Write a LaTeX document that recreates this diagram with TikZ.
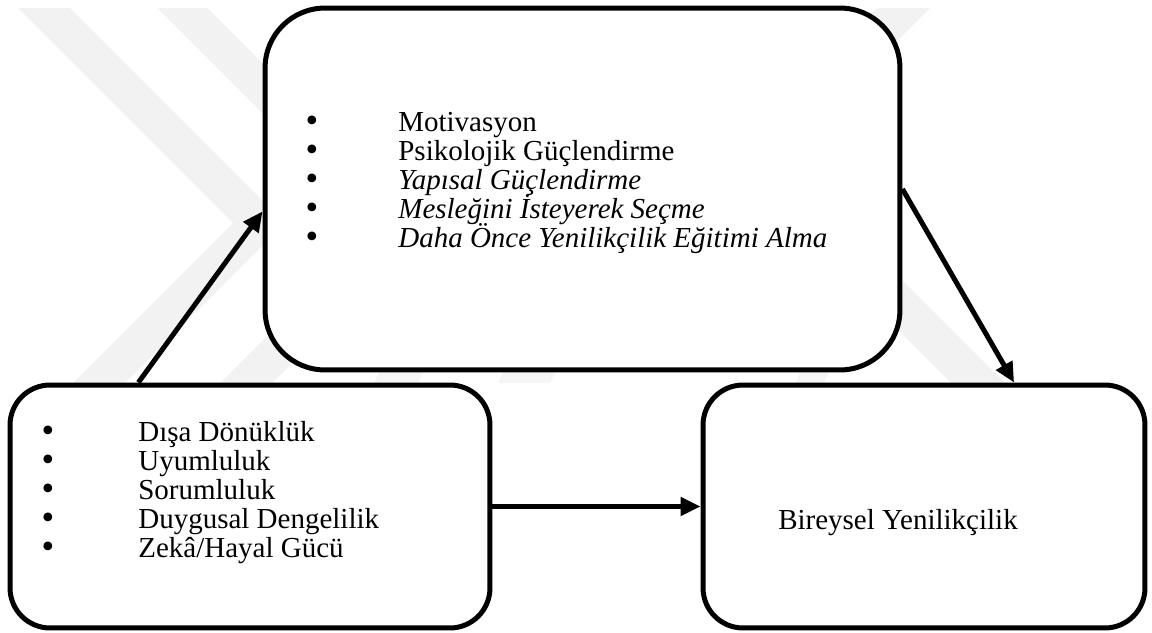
\documentclass[tikz,border=0pt]{standalone}
\usepackage{fontspec}
\setmainfont{Liberation Serif}
\newfontfamily\bulletfont{DejaVu Sans}
\usetikzlibrary{arrows.meta}

\begin{document}
\begin{tikzpicture}[x=0.02cm, y=-0.02cm, >={Triangle[length=0.4cm,width=0.36cm]},
  frame/.style={draw, line width=0.1cm, fill=white, inner sep=0pt, rounded corners=#1},
  conn/.style={->, line width=0.1cm},
  itemtext/.style={font=\fontsize{16.5pt}{16.5pt}\selectfont, inner sep=0pt, anchor=base west},
  itembullet/.style={font=\bulletfont\fontsize{17pt}{17pt}\selectfont, inner sep=0pt, anchor=base},
  mark color/.style={fill=black!5}]
  \useasboundingbox (0,0) rectangle (1152,632);

  % Watermark in the background
  \fill[mark color] (18,8) -- (70,8) -- (285,223) -- (108,400) -- (56,400) -- (233,223) -- cycle;
  \fill[mark color] (157,8) -- (207,8) -- (427,228) -- (255,400) -- (203,400) -- (376,227) -- cycle;
  \fill[mark color] (877,8) -- (930,8) -- (780,158) -- (1022,400) -- (968,400) -- (726.5,158.5) -- cycle;
  % small pieces showing between the boxes
  \fill[black!4] (382,366) -- (426,366) -- (418,383) -- (374,383) -- cycle;
  \fill[black!4] (506,366) -- (558,366) -- (550,383) -- (498,383) -- cycle;
  \fill[black!4] (802,366) -- (832,366) -- (824,383) -- (796,383) -- cycle;

  % Boxes
  \node[frame=1.2cm, minimum width=12.7cm, minimum height=7.24cm] (factors) at (582.5,189) {};
  \node[frame=0.8cm, minimum width=9.6cm, minimum height=4.86cm] (traits) at (250,506.5) {};
  \node[frame=0.8cm, minimum width=8.84cm, minimum height=4.86cm] (innov) at (924,506.5) {};

  % Bulleted items in the upper box
  \foreach \txt [count=\i from 0] in {Motivasyon, Psikolojik Güçlendirme,
      \textit{Yapısal Güçlendirme}, \textit{Mesleğini İsteyerek Seçme},
      \textit{Daha Önce Yenilikçilik Eğitimi Alma}} {
    \node[itembullet] (fb\i) at (312,{131+29.1*\i}) {•};
    \node[itemtext] (fac\i) at (398,{131+29.1*\i}) {\txt};
  }

  % Bulleted items in the lower left box
  \foreach \txt [count=\i from 0] in {Dışa Dönüklük, Uyumluluk, Sorumluluk,
      Duygusal Dengelilik, Zekâ/Hayal Gücü} {
    \node[itembullet] (tb\i) at (48,{441+29.1*\i}) {•};
    \node[itemtext] (trait\i) at (138,{441+29.1*\i}) {\txt};
  }

  \node[itemtext, anchor=center] (innovlabel) at (898,523) {Bireysel Yenilikçilik};

  % Arrows
  \draw[conn] (traits.132.9) -- (factors.184.1);
  \draw[conn] (factors.0.4) -- (innov.54.1);
  \draw[conn] (traits.east) -- (innov.west);
\end{tikzpicture}
\end{document}
